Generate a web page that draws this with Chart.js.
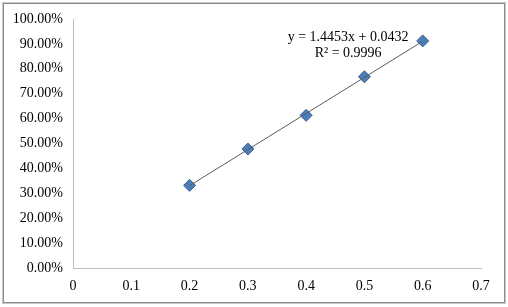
<!DOCTYPE html>
<html>
<head>
<meta charset="utf-8">
<script src="https://cdn.jsdelivr.net/npm/chart.js@4"></script>
<style>
    body { margin: 0; background: #fff; }
    #moldura {
        position: absolute; left: 3px; top: 3px;
        width: 500px; height: 298px;
        border: 1px solid #8c8c8c;
        box-shadow: 0 0 0 1px #c8c8c8;
    }
    #grafico { position: absolute; left: 0; top: 0; }
</style>
</head>
<body>
<div id="moldura"></div>
<canvas id="grafico" width="508" height="307"></canvas>
<script>
// dados
let concentracoes = [0.2, 0.3, 0.4, 0.5, 0.6];
let respostas = [0.332, 0.478, 0.613, 0.768, 0.912];

// rotulo da linha de tendencia
let textoEquacao = 'y = 1.4453x + 0.0432';
let textoR2 = 'R² = 0.9996';

// minimos quadrados para a linha de tendencia
function regressao(xs, ys) {
    let n = xs.length, sx = 0, sy = 0, sxy = 0, sxx = 0;
    for (let i = 0; i < n; i++) {
        sx += xs[i]; sy += ys[i]; sxy += xs[i] * ys[i]; sxx += xs[i] * xs[i];
    }
    let a = (n * sxy - sx * sy) / (n * sxx - sx * sx);
    let b = (sy - a * sx) / n;
    return { a: a, b: b };
}

let reta = regressao(concentracoes, respostas);
let xMin = Math.min(...concentracoes), xMax = Math.max(...concentracoes);
let tendencia = [
    { x: xMin, y: reta.a * xMin + reta.b },
    { x: xMax, y: reta.a * xMax + reta.b }
];

let pontos = concentracoes.map((c, i) => ({ x: c, y: respostas[i] }));

const fonte = { family: '"Liberation Serif", "Times New Roman", serif', size: 14 };

// escreve a equacao perto do canto superior direito
const rotuloEquacao = {
    id: 'rotuloEquacao',
    afterDatasetsDraw(chart) {
        let ctx = chart.ctx;
        let px = chart.scales.x.getPixelForValue(0.472);
        let py = chart.scales.y.getPixelForValue(0.925);
        ctx.save();
        ctx.font = '14px ' + fonte.family;
        ctx.fillStyle = '#000';
        ctx.textAlign = 'center';
        ctx.textBaseline = 'middle';
        ctx.fillText(textoEquacao, px, py);
        ctx.fillText(textoR2, px, py + 16);
        ctx.restore();
    }
};

new Chart(document.getElementById('grafico'), {
    type: 'scatter',
    data: {
        datasets: [
            {
                label: 'tendencia',
                type: 'line',
                data: tendencia,
                borderColor: '#5a5a5a',
                borderWidth: 1,
                pointRadius: 0,
                fill: false,
                order: 0
            },
            {
                label: 'medidas',
                data: pontos,
                pointStyle: 'rectRot',
                pointRadius: 6,
                pointHoverRadius: 6,
                backgroundColor: '#4a7ebb',
                borderColor: '#385d8a',
                borderWidth: 1,
                order: 1
            }
        ]
    },
    options: {
        responsive: false,
        animation: false,
        layout: { padding: { left: 0, top: 19, right: 27, bottom: 0 } },
        plugins: { legend: { display: false }, tooltip: { enabled: false } },
        scales: {
            x: {
                type: 'linear',
                min: 0, max: 0.7,
                afterFit(escala) { escala.height = 39; },
                ticks: {
                    stepSize: 0.1,
                    padding: 10,
                    color: '#000',
                    font: fonte,
                    maxRotation: 0,
                    callback: (v) => v == 0 ? '0' : v.toFixed(1)
                },
                grid: { display: false, drawTicks: false },
                border: { color: '#bfbfbf', width: 1 }
            },
            y: {
                min: 0, max: 1,
                afterFit(escala) { escala.width = 73; },
                ticks: {
                    stepSize: 0.1,
                    padding: 10,
                    color: '#000',
                    font: fonte,
                    callback: (v) => (v * 100).toFixed(2) + '%'
                },
                grid: { display: false, drawTicks: false },
                border: { color: '#bfbfbf', width: 1 }
            }
        }
    },
    plugins: [rotuloEquacao]
});
</script>
</body>
</html>
